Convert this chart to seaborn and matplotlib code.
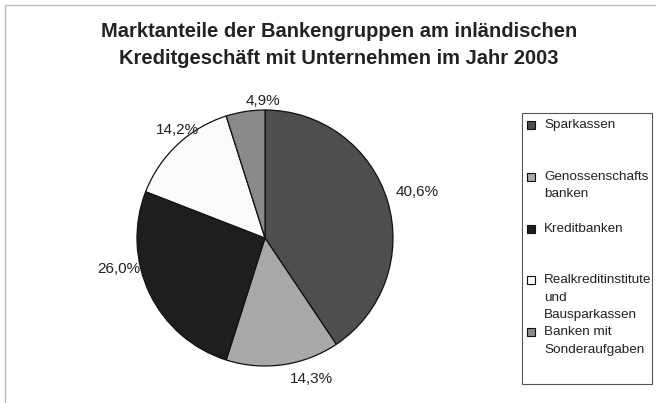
import numpy as np
import seaborn as sns
import matplotlib.pyplot as plt
from matplotlib.lines import Line2D
from matplotlib.patches import Rectangle

# data
groups = ["Sparkassen", "Genossenschafts\nbanken", "Kreditbanken",
          "Realkreditinstitute\nund\nBausparkassen", "Banken mit\nSonderaufgaben"]
shares = [40.6, 14.3, 26.0, 14.2, 4.9]
pct_labels = ["40,6%", "14,3%", "26,0%", "14,2%", "4,9%"]
colors = ["#4e4e4e", "#a8a8a8", "#1e1e1e", "#fbfbfb", "#8a8a8a"]

title = ("Marktanteile der Bankengruppen am inländischen\n"
         "Kreditgeschäft mit Unternehmen im Jahr 2003")

# where the scanned chart put its percentage labels (angle in deg, radius factor)
label_spots = [(17, 1.24), (-71.6, 1.16), (192, 1.17), (129, 1.09), (91, 1.07)]

sns.set_style("white")
plt.rcParams['font.family'] = ['Liberation Sans', 'DejaVu Sans']

W, H = 656, 403
fig = plt.figure(figsize=(W / 100, H / 100), dpi=100)

cx, cy, r = 265, 238, 128
ax = fig.add_axes([(cx - r) / W, (H - cy - r) / H, 2 * r / W, 2 * r / H])

wedges, _ = ax.pie(
    shares,
    colors=colors,
    startangle=90,
    counterclock=False,
    radius=1,
    wedgeprops={"edgecolor": "#111111", "linewidth": 0.9},
)
ax.set_xlim(-1, 1)
ax.set_ylim(-1, 1)
ax.set_aspect("equal")

for txt, (ang, dist) in zip(pct_labels, label_spots):
    a = np.deg2rad(ang)
    ax.text(dist * np.cos(a), dist * np.sin(a), txt, ha="center", va="center",
            fontsize=11, color="#222222", clip_on=False)

fig.text(339 / W, 1 - 45 / H, title, ha="center", va="center", fontsize=14.5,
         fontweight="bold", color="#222222", linespacing=1.55)


# Excel-style legend: fixed slot per entry, marker next to the first line
def px(x, y):
    return x / W, 1 - y / H


fig.add_artist(Rectangle(px(522, 384), 130 / W, 271 / H, transform=fig.transFigure,
                         facecolor="white", edgecolor="#555555", lw=0.8))
for i, (name, wedge) in enumerate(zip(groups, wedges)):
    y = 125 + 51.8 * i
    fig.add_artist(Rectangle(px(527, y + 4), 8 / W, 8 / H, transform=fig.transFigure,
                             facecolor=wedge.get_facecolor(), edgecolor="#111111", lw=0.8))
    fig.text(*px(544, y - 6), name, ha="left", va="top", fontsize=9.7,
             color="#222222", linespacing=1.6)

# faint scan border on top and left
fig.add_artist(Line2D([5 / W, 5 / W], [0, 1 - 5 / H], transform=fig.transFigure,
                      color="#bbbbbb", lw=1))
fig.add_artist(Line2D([5 / W, 1], [1 - 5 / H, 1 - 5 / H], transform=fig.transFigure,
                      color="#bbbbbb", lw=1))

fig.savefig("out.png", dpi=100)
